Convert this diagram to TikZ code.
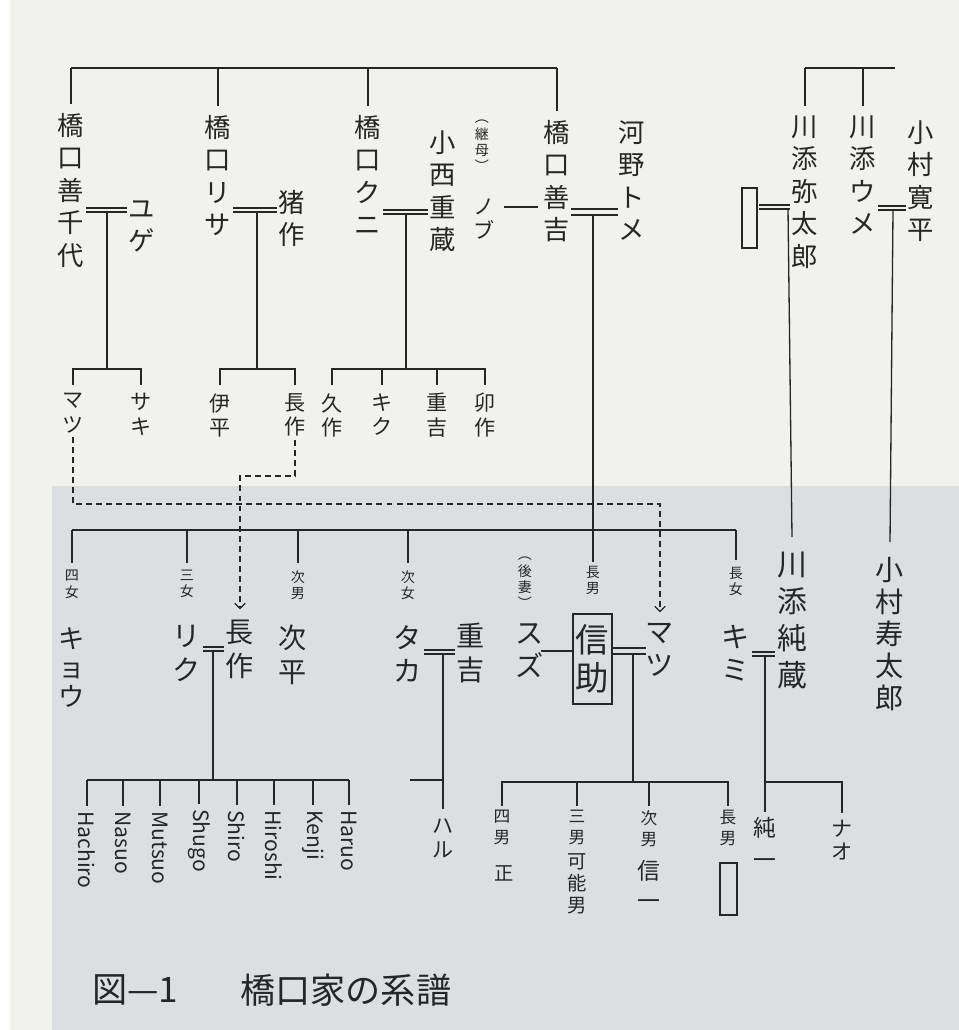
\documentclass[tikz,border=0pt]{standalone}
\usepackage{fontspec}
\setmainfont{Noto Sans CJK JP}
\usetikzlibrary{arrows.meta}
\definecolor{ink}{HTML}{262626}
\definecolor{paper}{HTML}{F1F1EE}
\definecolor{lowpage}{HTML}{DCDFE2}

\begin{document}
\begin{tikzpicture}[
    x=0.02cm, y=-0.02cm,
    every node/.style={inner sep=0pt, text=ink},
    person/.style={anchor=north, align=center},
    elder/.style={person, font=\fontsize{15}{18.5}\selectfont},
    kid/.style={person, font=\fontsize{12}{14}\selectfont},
    heir/.style={person, font=\fontsize{16}{19}\selectfont},
    grand/.style={person, font=\fontsize{12}{14}\selectfont},
    rank/.style={person, font=\fontsize{8}{9.2}\selectfont},
    rankb/.style={person, font=\fontsize{9.5}{12}\selectfont},
    romaji/.style={anchor=west, rotate=-90, font=\fontsize{12}{14}\selectfont},
    kin/.style={draw=ink, line width=0.75pt},
    wed/.style={kin, double=#1, double distance=1.6pt, shorten <=1pt, shorten >=1pt},
    wed/.default=paper,
    bond/.style={kin, double=#1, line width=1.1pt, double distance=2.2pt},
    bond/.default=paper,
    adopt/.style={kin, dash pattern=on 3.4pt off 2.3pt, -{Straight Barb[length=3pt,width=6pt]}},
    blank/.style={draw=ink, line width=0.8pt}
]
    \useasboundingbox (0,0) rectangle (959,1030);
    \fill[white] (0,0) rectangle (959,1030);
    \fill[paper] (10,0) rectangle (959,1030);
    \fill[lowpage] (52,486) rectangle (959,1030);

    % first generation
    \node[elder] (zenchiyo) at (71,113) {橋\\口\\善\\千\\代};
    \node[elder] (yuge) at (142,200) {ユ\\ゲ};
    \node[elder] (risa) at (218,115) {橋\\口\\リ\\サ};
    \node[elder] (inosaku) at (292,190) {猪\\作};
    \node[elder] (kuni) at (368,115) {橋\\口\\ク\\ニ};
    \node[elder] (juzo) at (443,130) {小\\西\\重\\蔵};
    \node[rank] (nobutag) at (482,120) {︵\\継\\母\\︶};
    \node[kid] (nobu) at (484,198) {ノ\\ブ};
    \node[elder] (zenkichi) at (557,120) {橋\\口\\善\\吉};
    \node[elder] (tome) at (632,120) {河\\野\\ト\\メ};
    \node[blank, minimum width=8.5pt, minimum height=34pt] (yablank) at (749.5,218) {};
    \node[elder] (yataro) at (805,115) {川\\添\\弥\\太\\郎};
    \node[elder] (ume) at (863,115) {川\\添\\ウ\\メ};
    \node[elder] (kanpei) at (921,120) {小\\村\\寛\\平};

    \coordinate (top) at (0,68);
    \coordinate (topRend) at (895,68);
    \draw[kin] (zenchiyo.north |- top) -- (zenkichi.north |- top);
    \foreach \p in {zenchiyo,risa,kuni,zenkichi}
        \draw[kin] (\p.north |- top) -- ([yshift=5pt]\p.north);
    \draw[kin] (yataro.north |- top) -- (topRend);
    \foreach \p in {yataro,ume}
        \draw[kin] (\p.north |- top) -- ([yshift=5pt]\p.north);

    % marriages
    \coordinate (w1) at (107,210);
    \coordinate (w2) at (257,210);
    \coordinate (w3) at (406,212);
    \coordinate (n1) at (520,207);
    \coordinate (w5) at (593,212);
    \coordinate (w6) at (788,207);
    \coordinate (w7) at (893,208);
    \draw[wed] (zenchiyo.east |- w1) -- (yuge.west |- w1);
    \draw[wed] (risa.east |- w2) -- (inosaku.west |- w2);
    \draw[wed] (kuni.east |- w3) -- (juzo.west |- w3);
    \draw[kin, shorten <=5pt, shorten >=3pt] (nobu.east |- n1) -- (zenkichi.west |- n1);
    \draw[bond] (zenkichi.east |- w5) -- (tome.west |- w5);
    \draw[wed] (yablank.east |- w6) -- (yataro.west |- w6);
    \draw[wed] (ume.east |- w7) -- (kanpei.west |- w7);

    % second generation
    \node[kid] (matsu) at (73,393) {マ\\ツ};
    \node[kid] (saki) at (141,393) {サ\\キ};
    \node[kid] (ihei) at (220,393) {伊\\平};
    \node[kid] (chosaku) at (295,393) {長\\作};
    \node[kid] (kyusaku) at (332,393) {久\\作};
    \node[kid] (kiku) at (382,393) {キ\\ク};
    \node[kid] (jukichi) at (437,393) {重\\吉};
    \node[kid] (usaku) at (485,393) {卯\\作};

    \coordinate (row2) at (0,369);
    \foreach \w in {w1,w2,w3}
        \draw[kin] ([yshift=-1.1pt]\w) -- (\w |- row2);
    \draw[kin] ([yshift=4.5pt]matsu.north) -- (matsu.north |- row2) -- (saki.north |- row2) -- ([yshift=4.5pt]saki.north);
    \draw[kin] ([yshift=4.5pt]ihei.north) -- (ihei.north |- row2) -- (chosaku.north |- row2) -- ([yshift=4.5pt]chosaku.north);
    \draw[kin] ([yshift=4.5pt]kyusaku.north) -- (kyusaku.north |- row2) -- (usaku.north |- row2) -- ([yshift=4.5pt]usaku.north);
    \foreach \p in {kiku,jukichi}
        \draw[kin] (\p.north |- row2) -- ([yshift=4.5pt]\p.north);

    % third generation
    \node[rank] (tkyo) at (72,570) {四\\女};
    \node[rank] (triku) at (187,570) {三\\女};
    \node[rank] (tjihei) at (298,570) {次\\男};
    \node[rank] (ttaka) at (408,570) {次\\女};
    \node[rank] (tshin) at (593,566) {長\\男};
    \node[rank] (tkimi) at (736,567) {長\\女};
    \node[rank] (suzutag) at (525,557) {︵\\後\\妻\\︶};

    \node[heir, font=\fontsize{15}{16.5}\selectfont] (kyo) at (72,627) {キ\\ョ\\ウ};
    \node[heir] (riku) at (187,625) {リ\\ク};
    \node[heir] (chosaku2) at (240,620) {長\\作};
    \node[heir] (jihei) at (293,625) {次\\平};
    \node[heir] (taka) at (408,625) {タ\\カ};
    \node[heir] (jukichi2) at (471,623) {重\\吉};
    \node[heir] (suzu) at (530,623) {ス\\ズ};
    \node[person, draw=ink, line width=1.3pt, minimum width=22pt, minimum height=51pt,
          font=\fontsize{19}{21.5}\selectfont] (shinsuke) at (592.5,613) {信\\助};
    \node[heir] (matsu2) at (660,623) {マ\\ツ};
    \node[heir] (kimi) at (736,625) {キ\\ミ};
    \node[heir, font=\fontsize{17}{21}\selectfont] (junzo) at (792,552) {川\\添\\純\\蔵};
    \node[heir, font=\fontsize{16}{18.2}\selectfont] (jutaro) at (890,557) {小\\村\\寿\\太\\郎};

    % adoptions
    \coordinate (lane1) at (0,504);
    \coordinate (lane2) at (0,476);
    \draw[adopt] ([yshift=-2pt]matsu.south) -- (matsu.south |- lane1) -| ([yshift=6pt]matsu2.north);
    \draw[adopt] ([yshift=-2pt]chosaku.south) -- (chosaku.south |- lane2) -| ([yshift=6pt]chosaku2.north);

    \coordinate (row3) at (0,530);
    \draw[kin] (tkyo.north |- row3) -- (tkimi.north |- row3);
    \foreach \p in {tkyo,triku,tjihei,ttaka,tkimi}
        \draw[kin] (\p.north |- row3) -- ([yshift=4pt]\p.north);
    \draw[kin] ([yshift=-1.5pt]w5) -- ([yshift=2pt]tshin.north);
    \draw[kin] ([yshift=-1.1pt]w6) -- ([yshift=8.5pt]junzo.north);
    \draw[kin] ([yshift=-1.1pt]w7) -- ([yshift=8.5pt]jutaro.north);

    \coordinate (w8) at (213,649);
    \coordinate (w9) at (443,652);
    \coordinate (n2) at (556,651);
    \coordinate (w10) at (633,651);
    \coordinate (w11) at (765,654);
    \draw[wed=lowpage] (riku.east |- w8) -- (chosaku2.west |- w8);
    \draw[wed=lowpage] (taka.east |- w9) -- (jukichi2.west |- w9);
    \draw[kin, shorten <=-2pt] (suzu.east |- n2) -- (shinsuke.west |- n2);
    \draw[bond=lowpage] (shinsuke.east |- w10) -- (matsu2.west |- w10);
    \draw[wed=lowpage] (kimi.east |- w11) -- (junzo.west |- w11);

    % fourth generation
    \node[romaji] (hachiro) at (87,811) {Hachiro};
    \node[romaji] (nasuo) at (123,811) {Nasuo};
    \node[romaji] (mutsuo) at (160,811) {Mutsuo};
    \node[romaji] (shugo) at (199,809) {Shugo};
    \node[romaji] (shiro) at (237,810) {Shiro};
    \node[romaji] (hiroshi) at (274,810) {Hiroshi};
    \node[romaji] (kenji) at (313,810) {Kenji};
    \node[romaji] (haruo) at (349,810) {Haruo};
    \node[grand] (haru) at (443,818) {ハ\\ル};

    \node[rankb] (tson4) at (502,810) {四\\男};
    \node[grand, font=\fontsize{11}{13}\selectfont] (sei) at (504,865) {正};
    \node[rankb] (tson3) at (577,810) {三\\男};
    \node[grand, font=\fontsize{11}{12.5}\selectfont] (kanoo) at (577,853) {可\\能\\男};
    \node[rankb] (tson2) at (649,810) {次\\男};
    \node[grand, font=\fontsize{13}{17}\selectfont] (shinichi) at (649,860) {信\\一};
    \node[rankb] (tson1) at (728,810) {長\\男};
    \node[blank, minimum width=9.6pt, minimum height=29.5pt] (heirblank) at (728.5,889) {};
    \node[grand, font=\fontsize{13}{18}\selectfont] (junichi) at (765,817) {純\\一};
    \node[grand, font=\fontsize{12}{13}\selectfont] (nao) at (842,820) {ナ\\オ};

    \coordinate (row4) at (0,780);
    \coordinate (row4b) at (0,782);
    \coordinate (stub) at (410,780);
    \draw[kin] ([yshift=-1.1pt]w8) -- (w8 |- row4);
    \draw[kin] (hachiro.west |- row4) -- (haruo.west |- row4);
    \foreach \s in {hachiro,nasuo,mutsuo,shugo,shiro,hiroshi,kenji,haruo}
        \draw[kin] (\s.west |- row4) -- ([yshift=3pt]\s.west);
    \draw[kin] ([yshift=-1.1pt]w9) -- ([yshift=5pt]haru.north);
    \draw[kin] (stub) -- (stub -| haru.north);
    \draw[kin] ([yshift=-1.5pt]w10) -- (w10 |- row4b);
    \draw[kin] ([yshift=2pt]tson4.north) -- (tson4.north |- row4b) -- (tson1.north |- row4b) -- ([yshift=2pt]tson1.north);
    \foreach \p in {tson3,tson2}
        \draw[kin] (\p.north |- row4b) -- ([yshift=2pt]\p.north);
    \draw[kin] ([yshift=-1.1pt]w11) -- ([yshift=3pt]junichi.north);
    \draw[kin] (junichi.north |- row4b) -| ([yshift=4pt]nao.north);

    % caption
    \node[anchor=west, font=\fontsize{20}{24}\selectfont] (figno) at (92,990) {図—1};
    \node[anchor=west, font=\fontsize{20}{24}\selectfont] (figtitle) at (240,990) {橋口家の系譜};
\end{tikzpicture}
\end{document}
